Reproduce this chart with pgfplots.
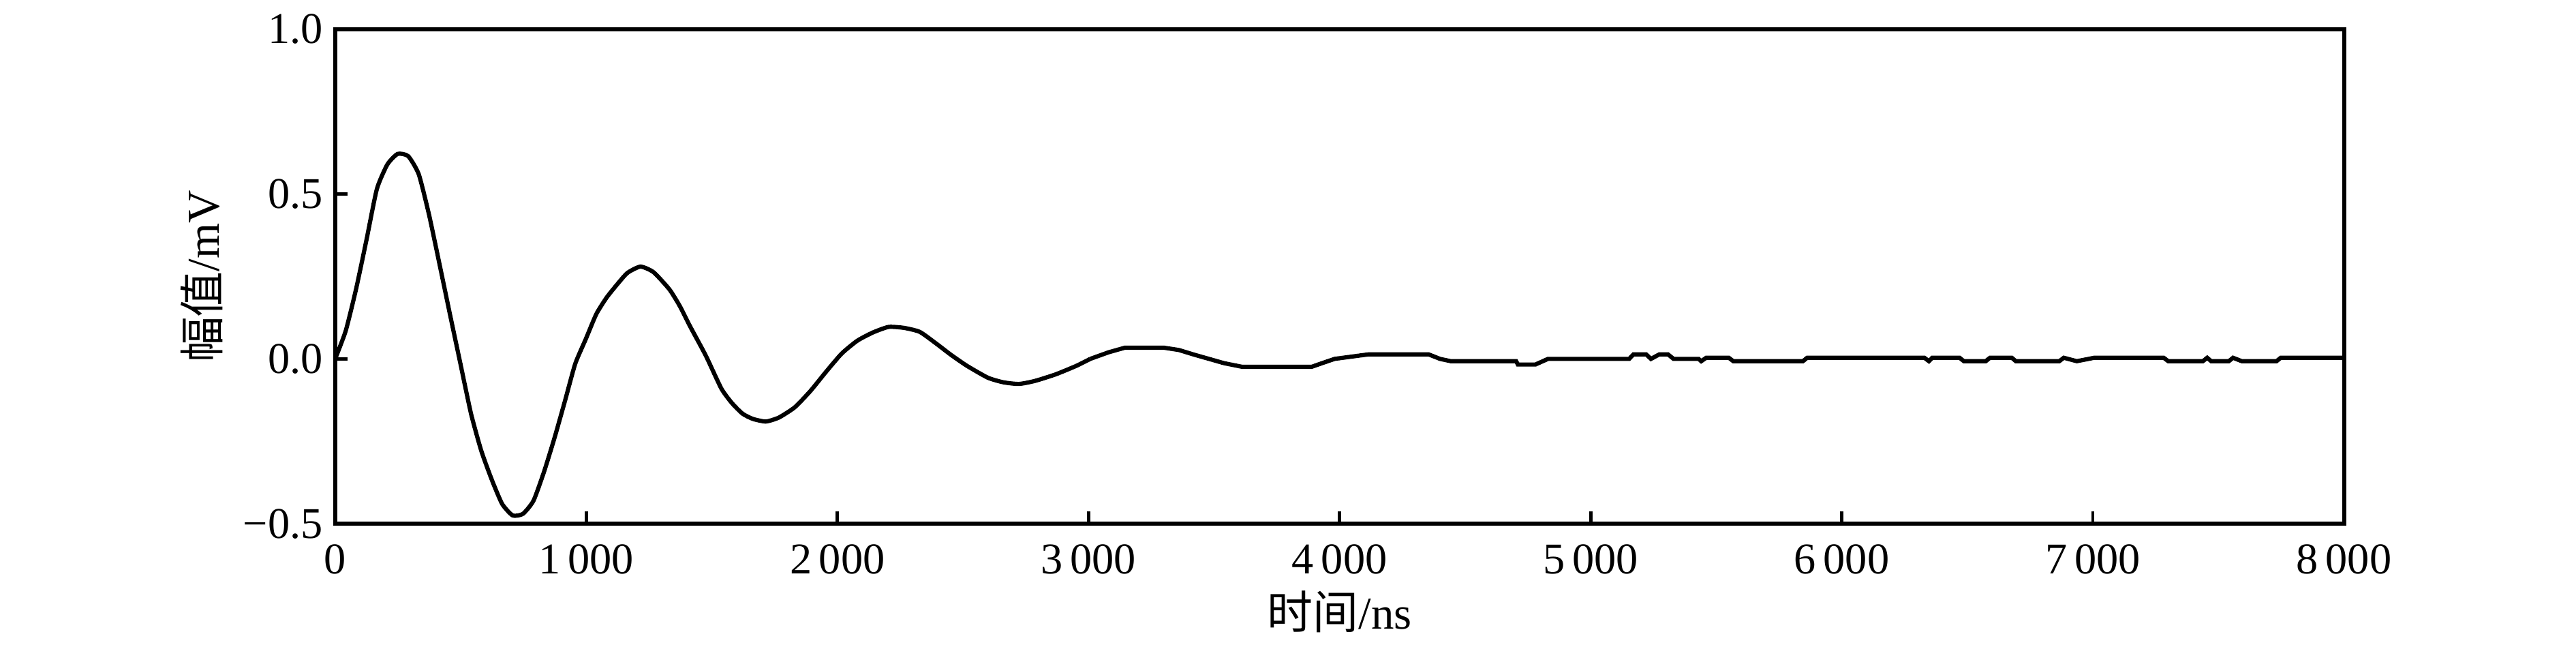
\documentclass[border=0pt]{standalone}
\usepackage{fontspec}
\setmainfont{Liberation Serif}
\newfontfamily\cjk{Noto Sans CJK SC}
\usepackage{pgfplots}
\pgfplotsset{compat=1.18}
\begin{document}
\begin{tikzpicture}
\useasboundingbox (-95.5pt,-34.4pt) rectangle (638.5pt,149.15pt);
\begin{axis}[
  at={(0,0)}, anchor=south west,
  width=572.4pt, height=140.8pt, scale only axis,
  xmin=0, xmax=8000, ymin=-0.5, ymax=1.0,
  xtick={0,1000,2000,3000,4000,5000,6000,7000,8000},
  xticklabels={0,1\,000,2\,000,3\,000,4\,000,5\,000,6\,000,7\,000,8\,000},
  ytick={-0.5,0,0.5,1.0},
  yticklabels={−0.5,0.0,0.5,1.0},
  tick align=inside, xtick pos=bottom, ytick pos=left,
  major tick length=3.5pt,
  tick style={black, line width=0.9pt},
  axis line style={black, line width=1.2pt},
  ticklabel style={font=\fontsize{12.5}{14}\selectfont},
  xticklabel style={yshift=-2.5pt},
  label style={font=\fontsize{13}{15}\selectfont},
  xlabel={{\cjk 时间}/ns},
  ylabel={{\cjk 幅值}/mV},
  xlabel style={at={(axis description cs:0.5,0)}, anchor=center, yshift=-25pt},
  ylabel style={at={(axis description cs:0,0.5)}, anchor=center, yshift=38pt},
  clip=true,
]
\addplot[black, line width=1.2pt, smooth, tension=0.35] coordinates {
(0,0) (42,0.085) (83,0.211) (125,0.362) (166,0.515) (208,0.590) (249,0.622)
(291,0.615) (333,0.560) (374,0.437) (416,0.286) (457,0.136) (499,-0.015)
(541,-0.166) (582,-0.279) (624,-0.367) (665,-0.440) (707,-0.475) (748,-0.470)
(790,-0.430) (832,-0.342) (873,-0.241) (915,-0.128) (956,-0.015) (998,0.060)
(1040,0.136) (1081,0.186) (1123,0.226) (1164,0.261) (1216,0.280) (1268,0.263)
(1331,0.211) (1372,0.161) (1414,0.098) (1476,0.010) (1538,-0.090) (1580,-0.134)
(1622,-0.166) (1663,-0.182) (1715,-0.190) (1767,-0.178) (1830,-0.147) (1892,-0.098)
(1954,-0.040) (2017,0.016) (2079,0.055) (2141,0.080) (2204,0.097) (2266,0.094)
(2328,0.082) (2391,0.048) (2453,0.012) (2516,-0.021) (2599,-0.057) (2661,-0.071)
(2723,-0.076) (2786,-0.067) (2869,-0.047) (2952,-0.021) (3007,0.0)
};
\addplot[black, line width=1.2pt] coordinates {
(3007,0.0)
(3080,0.020) (3145,0.034) (3300,0.034) (3360,0.027) (3420,0.013) (3480,0.0)
(3540,-0.013) (3612,-0.024) (3889,-0.024) (3930,-0.013) (3980,0.0)
(4114,0.0136) (4355,0.0136) (4400,0.0) (4443,-0.007) (4703,-0.007)
(4710,-0.017) (4780,-0.017) (4830,0.0) (5153,0.0) (5170,0.0136) (5221,0.0136)
(5240,0.0) (5273,0.0136) (5308,0.0136) (5330,0.0) (5430,0.0) (5440,-0.007)
(5460,0.0034) (5550,0.0034) (5568,-0.007) (5845,-0.007) (5862,0.0034)
(6329,0.0034) (6347,-0.007) (6360,0.0034) (6469,0.0034) (6486,-0.007)
(6573,-0.007) (6590,0.0034) (6677,0.0034) (6693,-0.007) (6866,-0.007)
(6884,0.0034) (6936,-0.007) (7005,0.0034) (7282,0.0034) (7300,-0.007)
(7438,-0.007) (7455,0.0034) (7471,-0.007) (7541,-0.007) (7558,0.0034)
(7593,-0.007) (7731,-0.007) (7748,0.0034) (7998,0.0034)
};
\end{axis}
\end{tikzpicture}
\end{document}
